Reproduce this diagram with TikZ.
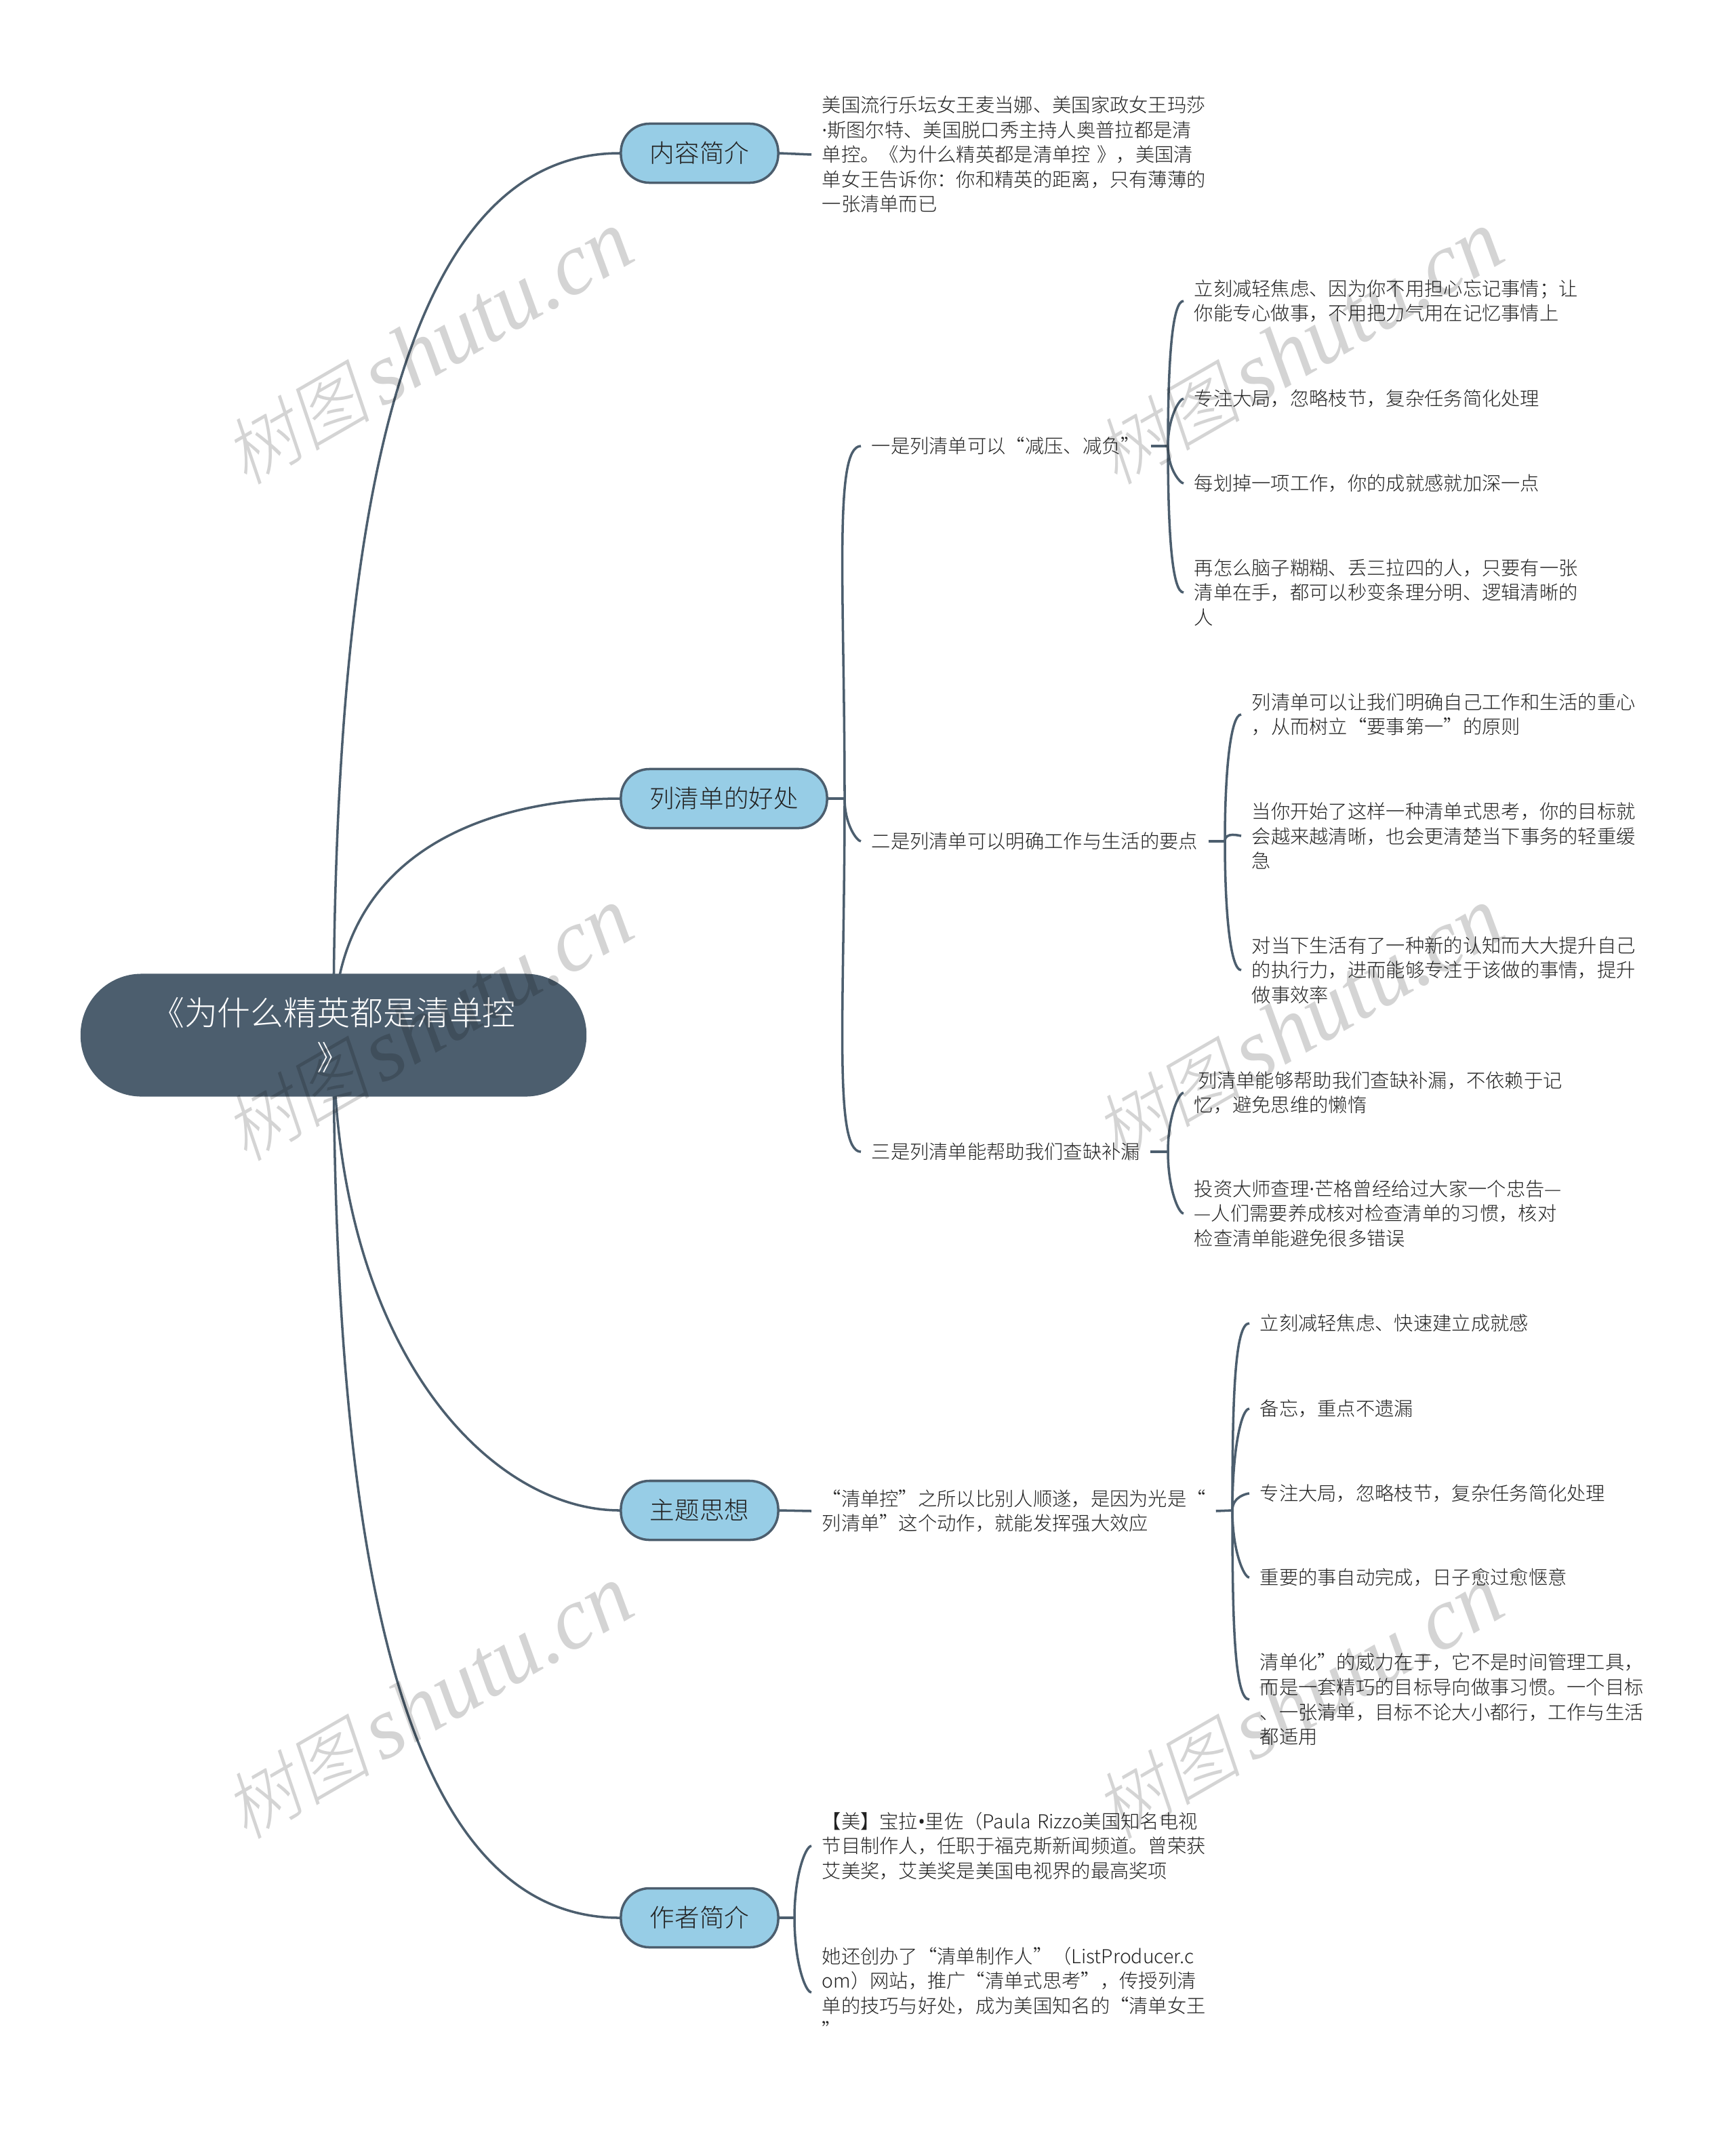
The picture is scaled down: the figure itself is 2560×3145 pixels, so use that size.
\documentclass[tikz,border=0pt]{standalone}
\usepackage{fontspec}
\setmainfont{Noto Sans CJK SC Light}
\newfontfamily\markcjk[FakeSlant=0.2]{Noto Sans CJK SC Light}
\newfontfamily\marklatin{Liberation Serif}
\newfontfamily\dotfont{Open Sans}
\usetikzlibrary{backgrounds}

\definecolor{slate}{HTML}{4C5E6E}
\definecolor{sky}{HTML}{97CDE6}
\definecolor{ink}{HTML}{222222}

\tikzset{
	conn/.style={draw=slate, line width=1pt},
	twigup/.style={line width=1.15pt, out=90, in=180, out looseness=1.5, in looseness=0.2},
	twigdown/.style={line width=1.15pt, out=-90, in=180, out looseness=1.5, in looseness=0.2},
	trunkup/.style={out=90, in=180, out looseness=1.45, in looseness=0.6},
	trunkdown/.style={out=-90, in=180, out looseness=1.45, in looseness=0.6},
	topic/.style={draw=slate, line width=1pt, fill=sky, text=ink, rounded corners=0.42cm, minimum height=0.87cm, font=\fontsize{10.4pt}{13pt}\selectfont},
	leaf/.style={anchor=west, inner xsep=0.15cm, inner ysep=0pt, align=left, text=ink, text width=#1, font=\fontsize{8.05pt}{10.4pt}\selectfont},
	leaf/.default=5.65cm,
	wmark/.style={rotate=30, text=black, text opacity=0.17}
}

\begin{document}
\begin{tikzpicture}[x=0.01cm, y=-0.01cm]
	\useasboundingbox (0,0) rectangle (2560,3145);

	\node [fill=slate, text=white, rounded corners=0.9cm, minimum width=7.46cm, minimum height=1.81cm, align=center, font=\fontsize{13.9pt}{18.8pt}\selectfont] (root) at (492,1527) {《为什么精英都是清单控\\》};

	\node [topic, minimum width=2.32cm] (intro) at (1032,226) {内容简介};
	\node [topic, minimum width=3.04cm] (bene) at (1068,1178) {列清单的好处};
	\node [topic, minimum width=2.32cm] (theme) at (1032,2228) {主题思想};
	\node [topic, minimum width=2.32cm] (writer) at (1032,2829) {作者简介};

	\node [leaf] (intro1) at (1197,228) {美国流行乐坛女王麦当娜、美国家政女王玛莎\\{\dotfont ·}斯图尔特、美国脱口秀主持人奥普拉都是清\\单控。《为什么精英都是清单控 》，美国清\\单女王告诉你：你和精英的距离，只有薄薄的\\一张清单而已};

	\node [leaf=3.96cm] (bene1) at (1270,658) {一是列清单可以“减压、减负”};
	\node [leaf=4.81cm] (bene2) at (1270,1241) {二是列清单可以明确工作与生活的要点};
	\node [leaf=3.95cm] (bene3) at (1270,1699) {三是列清单能帮助我们查缺补漏};

	\node [leaf] (one1) at (1746,444) {立刻减轻焦虑、因为你不用担心忘记事情；让\\你能专心做事，不用把力气用在记忆事情上};
	\node [leaf] (one2) at (1746,588) {专注大局，忽略枝节，复杂任务简化处理};
	\node [leaf] (one3) at (1746,713) {每划掉一项工作，你的成就感就加深一点};
	\node [leaf] (one4) at (1746,874) {再怎么脑子糊糊、丢三拉四的人，只要有一张\\清单在手，都可以秒变条理分明、逻辑清晰的\\人};

	\node [leaf] (two1) at (1831,1054) {列清单可以让我们明确自己工作和生活的重心\\，从而树立“要事第一”的原则};
	\node [leaf] (two2) at (1831,1233) {当你开始了这样一种清单式思考，你的目标就\\会越来越清晰，也会更清楚当下事务的轻重缓\\急};
	\node [leaf] (two3) at (1831,1431) {对当下生活有了一种新的认知而大大提升自己\\的执行力，进而能够专注于该做的事情，提升\\做事效率};

	\node [leaf] (three1) at (1746,1612) {\hspace{1.5pt}列清单能够帮助我们查缺补漏，不依赖于记\\忆，避免思维的懒惰};
	\node [leaf] (three2) at (1746,1790) {投资大师查理{\dotfont ·}芒格曾经给过大家一个忠告—\\—人们需要养成核对检查清单的习惯，核对\\检查清单能避免很多错误};

	\node [leaf] (theme1) at (1197,2229) {“清单控”之所以比别人顺遂，是因为光是“\\列清单”这个动作，就能发挥强大效应};

	\node [leaf] (point1) at (1843,1952) {立刻减轻焦虑、快速建立成就感};
	\node [leaf] (point2) at (1843,2078) {备忘，重点不遗漏};
	\node [leaf] (point3) at (1843,2203) {专注大局，忽略枝节，复杂任务简化处理};
	\node [leaf] (point4) at (1843,2327) {重要的事自动完成，日子愈过愈惬意};
	\node [leaf] (point5) at (1843,2507) {清单化”的威力在于，它不是时间管理工具，\\而是一套精巧的目标导向做事习惯。一个目标\\、一张清单，目标不论大小都行，工作与生活\\都适用};

	\node [leaf] (writer1) at (1197,2723) {\mbox{【美】宝拉{\dotfont •}里佐（Paula Rizzo美国知名电视}\\节目制作人，任职于福克斯新闻频道。曾荣获\\艾美奖，艾美奖是美国电视界的最高奖项};
	\node [leaf] (writer2) at (1197,2939) {她还创办了“清单制作人”（ListProducer.c\\om）网站，推广“清单式思考”，传授列清\\单的技巧与好处，成为美国知名的“清单女王\\”};

	\coordinate (beneJ) at (1246,1178);
	\coordinate (oneJ) at (1723,658);
	\coordinate (twoJ) at (1807,1241);
	\coordinate (threeJ) at (1723,1699);
	\coordinate (themeJ) at (1818,2228);
	\coordinate (writerJ) at (1172,2829);

	\begin{scope}[on background layer]
		\fill [white] (0,0) rectangle (2560,3145);

		\draw [conn] (root.center) to[trunkup] (intro.west);
		\draw [conn] (root.center) to[trunkup] (bene.west);
		\draw [conn] (root.center) to[trunkdown] (theme.west);
		\draw [conn] (root.center) to[trunkdown] (writer.west);

		\draw [conn] (intro.east) -- (intro1.west);
		\draw [conn] (theme.east) -- (theme1.west);

		\draw [conn] (bene.east) -- (beneJ);
		\draw [conn] (beneJ) to[twigup] (bene1.west);
		\draw [conn] (beneJ) to[twigdown] (bene2.west);
		\draw [conn] (beneJ) to[twigdown] (bene3.west);

		\draw [conn] (bene1.east) -- (oneJ);
		\foreach \n in {one1,one2}
			\draw [conn] (oneJ) to[twigup] (\n.west);
		\foreach \n in {one3,one4}
			\draw [conn] (oneJ) to[twigdown] (\n.west);

		\draw [conn] (bene2.east) -- (twoJ);
		\draw [conn] (twoJ) to[twigup] (two1.west);
		\draw [conn] (twoJ) to[twigup] (two2.west);
		\draw [conn] (twoJ) to[twigdown] (two3.west);

		\draw [conn] (bene3.east) -- (threeJ);
		\draw [conn] (threeJ) to[twigup] (three1.west);
		\draw [conn] (threeJ) to[twigdown] (three2.west);

		\draw [conn] (theme1.east) -- (themeJ);
		\foreach \n in {point1,point2,point3}
			\draw [conn] (themeJ) to[twigup] (\n.west);
		\foreach \n in {point4,point5}
			\draw [conn] (themeJ) to[twigdown] (\n.west);

		\draw [conn] (writer.east) -- (writerJ);
		\draw [conn] (writerJ) to[twigup] (writer1.west);
		\draw [conn] (writerJ) to[twigdown] (writer2.west);
	\end{scope}

	\foreach \x in {632,1916}
		\foreach \y in {514,1512,2512}
			\node [wmark] (wm\x\y) at (\x,\y) {{\markcjk\fontsize{31pt}{35pt}\selectfont 树图\hspace{2pt}} {\marklatin\itshape\fontsize{37pt}{35pt}\selectfont shutu.cn}};
\end{tikzpicture}
\end{document}
